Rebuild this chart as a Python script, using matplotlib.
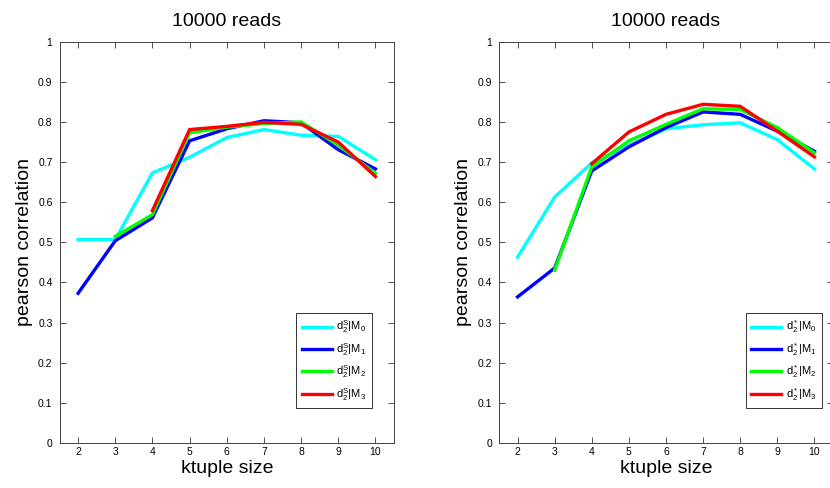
import matplotlib
matplotlib.use("Agg")
import matplotlib.pyplot as plt

plt.rcParams['font.family'] = ['Liberation Sans', 'DejaVu Sans']
plt.rcParams['mathtext.fontset'] = 'custom'
plt.rcParams['mathtext.rm'] = 'Liberation Sans'
plt.rcParams['mathtext.it'] = 'Liberation Sans'

ktuple = [2, 3, 4, 5, 6, 7, 8, 9, 10]
titles = ["10000 reads", "10000 reads"]

# left panel (d2S)
left_M0 = [0.507, 0.507, 0.673, 0.712, 0.761, 0.781, 0.767, 0.764, 0.706]
left_M1 = [0.373, 0.504, 0.561, 0.753, 0.783, 0.803, 0.798, 0.731, 0.683]
left_M2 = [None, 0.515, 0.569, 0.773, 0.787, 0.796, 0.800, 0.742, 0.672]
left_M3 = [None, None, 0.579, 0.781, 0.789, 0.799, 0.794, 0.750, 0.664]

# right panel (d2*)
right_M0 = [0.463, 0.613, 0.698, 0.742, 0.783, 0.793, 0.798, 0.756, 0.683]
right_M1 = [0.364, 0.436, 0.678, 0.738, 0.786, 0.825, 0.819, 0.777, 0.727]
right_M2 = [None, 0.431, 0.688, 0.753, 0.794, 0.833, 0.831, 0.786, 0.723]
right_M3 = [None, None, 0.696, 0.775, 0.819, 0.844, 0.839, 0.777, 0.713]

left_labels = [r'$\mathregular{d_2^S|M_0}$', r'$\mathregular{d_2^S|M_1}$',
               r'$\mathregular{d_2^S|M_2}$', r'$\mathregular{d_2^S|M_3}$']
right_labels = [r'$\mathregular{d_2^*|M_0}$', r'$\mathregular{d_2^*|M_1}$',
                r'$\mathregular{d_2^*|M_2}$', r'$\mathregular{d_2^*|M_3}$']
colors = ['#00FFFF', '#0000FF', '#00FF00', '#FF0000']

W, H = 830, 488
fig = plt.figure(figsize=(W / 100, H / 100), dpi=100)

def make_ax(x0, x1, y0, y1):
    return fig.add_axes([x0 / W, 1 - y1 / H, (x1 - x0) / W, (y1 - y0) / H])

axes = [make_ax(59.5, 394, 41.7, 443), make_ax(499, 833, 41.7, 443)]
series = [[left_M0, left_M1, left_M2, left_M3], [right_M0, right_M1, right_M2, right_M3]]
labels = [left_labels, right_labels]
leg_x = [0.934, 0.967]

for ax, ser, labs, title, lx in zip(axes, series, labels, titles, leg_x):
    for vals, c, lab in zip(ser, colors, labs):
        xs = [k for k, v in zip(ktuple, vals) if v is not None]
        ys = [v for v in vals if v is not None]
        ax.plot(xs, ys, color=c, lw=2.4, label=lab, solid_joinstyle='miter')
    ax.set_xlim(1.5, 10.5)
    ax.set_ylim(0, 1)
    ax.set_xticks(ktuple)
    ax.set_yticks([i / 10 for i in range(11)])
    ax.set_yticklabels(['0'] + ['0.%d' % i for i in range(1, 10)] + ['1'])
    ax.tick_params(direction='in', top=True, right=True, labelsize=7.5,
                   length=4, width=0.6, color='#333333', pad=5)
    ax.tick_params(axis='x', pad=3)
    for sp in ax.spines.values():
        sp.set_linewidth(0.7)
        sp.set_color('#444444')
    ax.set_title(title, fontsize=14, pad=11)
    ax.set_xlabel('ktuple size', fontsize=14, labelpad=2)
    ax.set_ylabel('pearson correlation', fontsize=14, labelpad=4)
    leg = ax.legend(loc='lower right', bbox_to_anchor=(lx, 0.087), fontsize=8,
                    frameon=True, fancybox=False, edgecolor='black',
                    handlelength=2.7, borderpad=0.5, labelspacing=0.5,
                    handletextpad=0.4, borderaxespad=0)
    leg.get_frame().set_linewidth(0.7)

fig.savefig('out.png', dpi=100)
